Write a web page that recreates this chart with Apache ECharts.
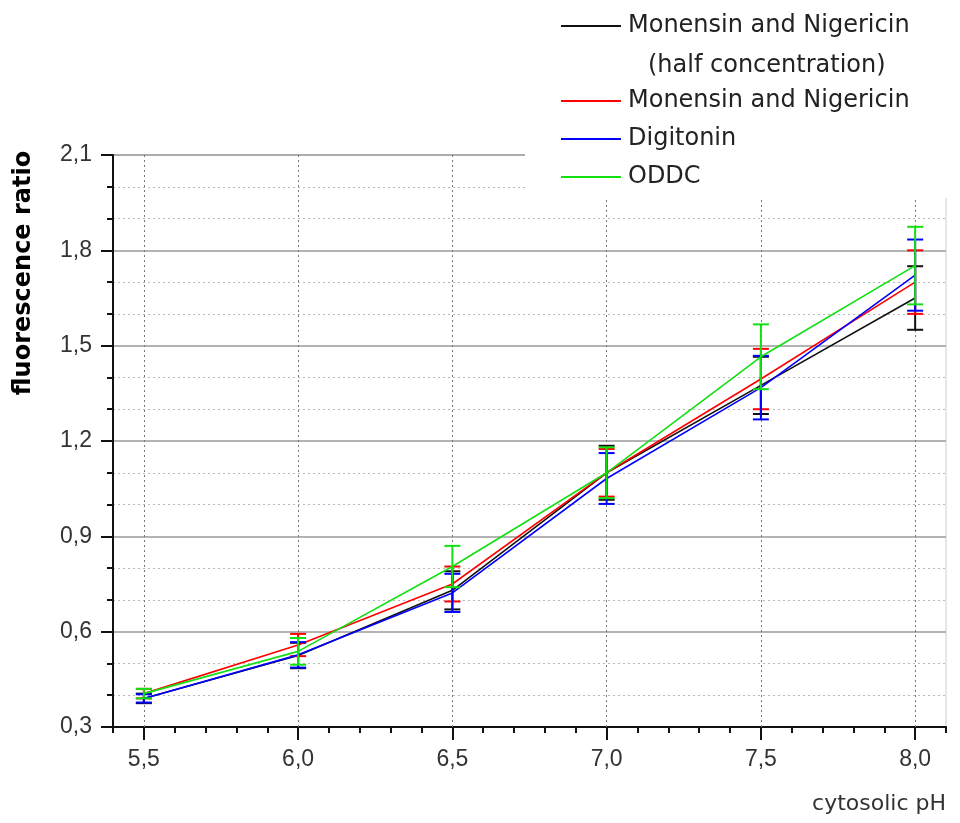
<!DOCTYPE html>
<html>
<head>
<meta charset="utf-8">
<script src="https://cdn.jsdelivr.net/npm/echarts@6/dist/echarts.min.js"></script>
<style>
  html, body { margin: 0; padding: 0; background: #fff; }
  #chart { width: 960px; height: 823px; }
</style>
</head>
<body>
<div id="chart"></div>
<script>
// cytosolic pH calibration points
const phValues = [5.5, 6.0, 6.5, 7.0, 7.5, 8.0];
const xTickValues = [5.5, 6.0, 6.5, 7.0, 7.5, 8.0];

// mean fluorescence ratio and error (±) for each permeabilisation method
const halfConcMean = [0.390, 0.525, 0.730, 1.100, 1.375, 1.650];
const halfConcErr  = [0.015, 0.040, 0.060, 0.085, 0.090, 0.100];

const monNigMean = [0.405, 0.558, 0.750, 1.100, 1.395, 1.700];
const monNigErr  = [0.015, 0.035, 0.055, 0.075, 0.095, 0.100];

const digitoninMean = [0.390, 0.527, 0.722, 1.082, 1.368, 1.722];
const digitoninErr  = [0.013, 0.040, 0.060, 0.080, 0.100, 0.112];

const oddcMean = [0.405, 0.538, 0.805, 1.100, 1.465, 1.752];
const oddcErr  = [0.015, 0.042, 0.065, 0.080, 0.102, 0.122];

const seriesDefs = [
  { name: 'Monensin and Nigericin (half concentration)', color: '#111111', mean: halfConcMean, err: halfConcErr },
  { name: 'Monensin and Nigericin', color: '#ff0000', mean: monNigMean, err: monNigErr },
  { name: 'Digitonin', color: '#0000ff', mean: digitoninMean, err: digitoninErr },
  { name: 'ODDC', color: '#12e012', mean: oddcMean, err: oddcErr }
];

const tickFont = '"Liberation Sans Narrow", "Liberation Sans", Arial, sans-serif';
const textFont = '"DejaVu Sans", Verdana, sans-serif';
const comma = v => Number(v).toFixed(1).replace('.', ',');

function errorBarRenderer(color) {
  return function (params, api) {
    const x = api.value(0);
    const pLo = api.coord([x, api.value(1)]);
    const pHi = api.coord([x, api.value(2)]);
    const w = 8;
    const style = { stroke: color, lineWidth: 2 };
    return {
      type: 'group',
      children: [
        { type: 'line', shape: { x1: pLo[0], y1: pLo[1], x2: pHi[0], y2: pHi[1] }, style },
        { type: 'line', shape: { x1: pLo[0] - w, y1: pLo[1], x2: pLo[0] + w, y2: pLo[1] }, style },
        { type: 'line', shape: { x1: pHi[0] - w, y1: pHi[1], x2: pHi[0] + w, y2: pHi[1] }, style }
      ]
    };
  };
}

const series = [];
seriesDefs.forEach((s, idx) => {
  const line = {
    name: s.name,
    type: 'line',
    data: phValues.map((x, i) => [x, s.mean[i]]),
    showSymbol: false,
    symbol: 'none',
    color: s.color,
    lineStyle: { color: s.color, width: 1.6 },
    z: 3 + idx,
    animation: false
  };
  if (idx === 0) {
    // dotted vertical guides at the labelled pH values
    line.markLine = {
      silent: true,
      symbol: 'none',
      label: { show: false },
      lineStyle: { color: '#777', type: [2, 3], width: 1 },
      data: xTickValues.map(v => ({ xAxis: v })),
      z: 1,
      animation: false
    };
  }
  series.push(line);
  series.push({
    name: s.name,
    type: 'custom',
    renderItem: errorBarRenderer(s.color),
    encode: { x: 0, y: [1, 2] },
    data: phValues.map((x, i) => [x, s.mean[i] - s.err[i], s.mean[i] + s.err[i]]),
    z: 3 + idx,
    animation: false
  });
});

const chart = echarts.init(document.getElementById('chart'), null, { renderer: 'canvas' });
chart.setOption({
  backgroundColor: '#ffffff',
  animation: false,
  grid: {
    left: 113, right: 14, top: 155, bottom: 96,
    outerBoundsMode: 'none',
    containLabel: false,
    show: true, borderColor: '#cfcfcf', borderWidth: 1
  },
  xAxis: [
    {
      type: 'value',
      min: 5.4, max: 8.1, interval: 0.1,
      position: 'bottom',
      axisLine: { onZero: false, lineStyle: { color: '#111', width: 2 } },
      axisTick: { show: true, length: 6, lineStyle: { color: '#111', width: 2 } },
      axisLabel: { show: false },
      splitLine: { show: false },
      name: 'cytosolic pH',
      nameLocation: 'end',
      nameGap: 0,
      nameTextStyle: {
        fontFamily: textFont, fontSize: 22, color: '#333',
        align: 'right', verticalAlign: 'top', padding: [66, 0, 0, 0]
      }
    },
    {
      type: 'value',
      min: 5.4, max: 8.1,
      position: 'bottom',
      axisLine: { show: false, onZero: false },
      axisTick: { show: true, length: 13, customValues: xTickValues, lineStyle: { color: '#111', width: 2 } },
      axisLabel: {
        show: true, customValues: xTickValues, margin: 21,
        formatter: comma, fontFamily: tickFont, fontSize: 23, color: '#333'
      },
      splitLine: { show: false }
    }
  ],
  yAxis: [
    {
      type: 'value',
      min: 0.3, max: 2.1, interval: 0.3,
      axisLine: { show: true, onZero: false, lineStyle: { color: '#111', width: 2 } },
      axisTick: { show: true, length: 12, lineStyle: { color: '#111', width: 2 } },
      minorTick: { show: true, splitNumber: 3, length: 6, lineStyle: { color: '#111', width: 2 } },
      axisLabel: {
        margin: 21, formatter: comma,
        fontFamily: tickFont, fontSize: 23, color: '#333'
      },
      splitLine: { show: true, lineStyle: { color: '#9a9a9a', width: 1.5 } },
      minorSplitLine: { show: true, lineStyle: { color: '#b8b8b8', type: [2, 3], width: 1 } },
      name: 'fluorescence ratio',
      nameLocation: 'middle',
      nameGap: 77,
      nameRotate: 90,
      nameTextStyle: {
        fontFamily: textFont, fontWeight: 'bold', fontSize: 24, color: '#000',
        padding: [0, 0, 0, 336]
      }
    }
  ],
  legend: [
    {
      orient: 'vertical',
      left: 561, top: 14,
      padding: 0,
      icon: 'rect',
      itemWidth: 60, itemHeight: 2, itemGap: 14,
      data: ['Monensin and Nigericin (half concentration)'],
      formatter: () => 'Monensin and Nigericin',
      textStyle: { fontFamily: textFont, fontSize: 24, color: '#222', padding: [0, 0, 0, 2] },
      z: 6
    },
    {
      orient: 'vertical',
      left: 561, top: 89,
      padding: 0,
      icon: 'rect',
      itemWidth: 60, itemHeight: 2, itemGap: 14,
      data: ['Monensin and Nigericin', 'Digitonin', 'ODDC'],
      textStyle: { fontFamily: textFont, fontSize: 24, color: '#222', padding: [0, 0, 0, 2] },
      z: 6
    }
  ],
  graphic: {
    elements: [
      {
        type: 'rect', left: 525, top: 0, z: 4, silent: true,
        shape: { width: 435, height: 198 },
        style: { fill: '#ffffff' }
      },
      {
        type: 'text', left: 648, top: 54, z: 7, silent: true,
        style: { text: '(half concentration)', font: '24px "DejaVu Sans", Verdana, sans-serif', fill: '#222' }
      }
    ]
  },
  series: series
});
</script>
</body>
</html>
